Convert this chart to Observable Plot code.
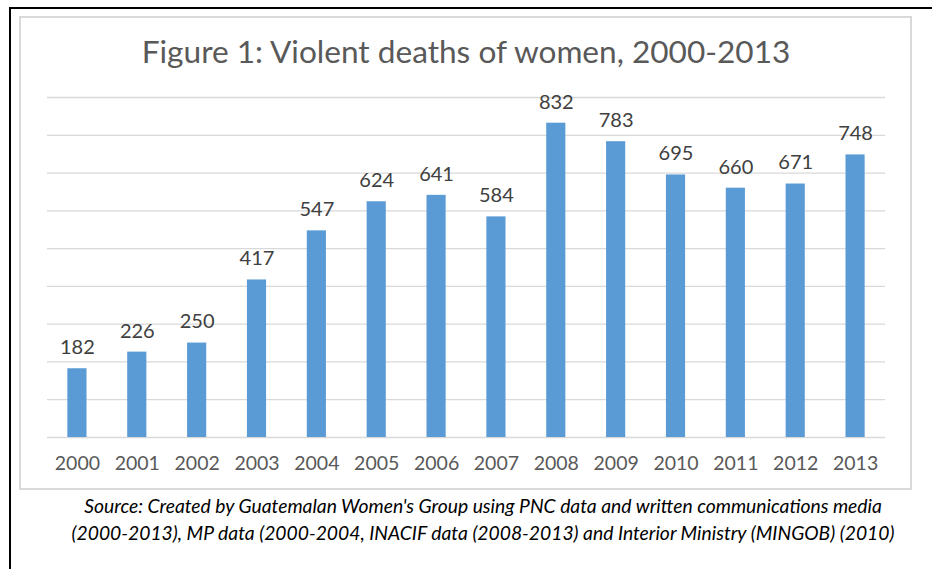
<!DOCTYPE html>
<html>
<head>
<meta charset="utf-8">
<script src="https://cdn.jsdelivr.net/npm/d3@7"></script>
<script src="https://cdn.jsdelivr.net/npm/@observablehq/plot@0.6"></script>
<style>
  html, body { margin: 0; padding: 0; background: #fff; }
  #page { position: relative; width: 932px; height: 569px; overflow: hidden; background: #fff; }
  #frameTop { position: absolute; left: 9px; top: 7px; width: 923px; height: 2px; background: #000; }
  #frameLeft { position: absolute; left: 9px; top: 7px; width: 2px; height: 562px; background: #000; }
  #chartBox { position: absolute; left: 19px; top: 16px; width: 889px; height: 470px; border: 2px solid #d9d9d9; box-sizing: content-box; }
  #title { position: absolute; left: 0; top: 32px; width: 932px; text-align: center; font-family: Lato, sans-serif; font-size: 31.6px; color: #595959; white-space: nowrap; }
  #plot { position: absolute; left: 0; top: 0; }
  #caption { position: absolute; left: 0; top: 492px; width: 966px; text-align: center; font-family: Lato, sans-serif; font-style: italic; font-size: 19.3px; line-height: 27px; color: #000; white-space: nowrap; }
</style>
</head>
<body>
<div id="page">
  <div id="frameTop"></div>
  <div id="frameLeft"></div>
  <div id="chartBox"></div>
  <div id="title">Figure 1: Violent deaths of women, 2000-2013</div>
  <div id="plot"></div>
  <div id="caption">Source: Created by Guatemalan Women's Group using PNC data and written communications media<br>(2000-2013), MP data (2000-2004, INACIF data (2008-2013) and Interior Ministry (MINGOB) (2010)</div>
</div>
<script>
const years = ["2000","2001","2002","2003","2004","2005","2006","2007","2008","2009","2010","2011","2012","2013"];
const deaths = [182, 226, 250, 417, 547, 624, 641, 584, 832, 783, 695, 660, 671, 748];
const gridTicks = [0, 100, 200, 300, 400, 500, 600, 700, 800, 900];

const data = years.map((y, i) => ({year: y, value: deaths[i]}));

const chart = Plot.plot({
  width: 932,
  height: 480,
  marginLeft: 47,
  marginRight: 47,
  marginTop: 97,
  marginBottom: 43,
  style: {background: "transparent", fontFamily: "Lato, sans-serif"},
  x: {domain: years, paddingInner: 0.68, paddingOuter: 0.34, round: false, label: null},
  y: {domain: [0, 900], label: null},
  marks: [
    Plot.ruleY(gridTicks, {stroke: "#d9d9d9", strokeWidth: 1.3}),
    Plot.barY(data, {x: "year", y: "value", fill: "#5b9bd5"}),
    Plot.text(data, {x: "year", y: "value", text: d => String(d.value), dy: -21, fontSize: 20, fill: "#404040"}),
    Plot.axisX({tickSize: 0, tickPadding: 19, fontSize: 19.5, color: "#595959", label: null}),
    Plot.axisY({ticks: [], label: null})
  ]
});
document.getElementById("plot").appendChild(chart);
</script>
</body>
</html>
